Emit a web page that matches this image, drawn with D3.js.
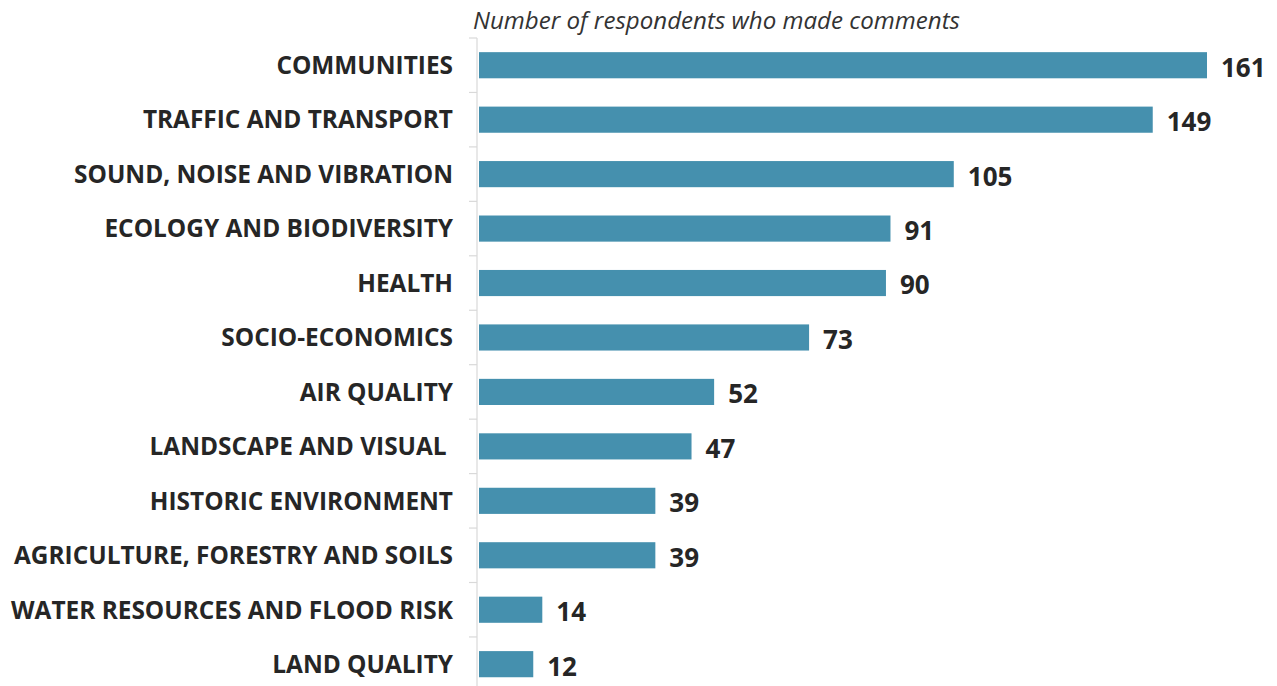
<!DOCTYPE html>
<html>
<head>
<meta charset="utf-8">
<script src="https://cdn.jsdelivr.net/npm/d3@7"></script>
<style>
  html, body { margin: 0; padding: 0; background: #fff; }
  svg { display: block; }
</style>
</head>
<body>
<svg id="chart" width="1277" height="686"></svg>
<script>
// Topics raised by respondents, and how many respondents commented on each
const categories = [
  "COMMUNITIES",
  "TRAFFIC AND TRANSPORT",
  "SOUND, NOISE AND VIBRATION",
  "ECOLOGY AND BIODIVERSITY",
  "HEALTH",
  "SOCIO-ECONOMICS",
  "AIR QUALITY",
  "LANDSCAPE AND VISUAL ",
  "HISTORIC ENVIRONMENT",
  "AGRICULTURE, FORESTRY AND SOILS",
  "WATER RESOURCES AND FLOOD RISK",
  "LAND QUALITY"
];
const respondents = [161, 149, 105, 91, 90, 73, 52, 47, 39, 39, 14, 12];
const chartTitle = "Number of respondents who made comments";

const svg = d3.select("#chart");
const width = 1277, height = 686;
const margin = { top: 38, left: 477, right: 70 };

const x = d3.scaleLinear()
  .domain([0, 161])
  .range([margin.left + 2, 1207]);

const y = d3.scaleBand()
  .domain(categories)
  .range([margin.top, margin.top + 54.45 * categories.length])
  .paddingInner(0.52)
  .paddingOuter(0.26);

// vertical category axis with short ticks between the bands
const axisG = svg.append("g").attr("transform", `translate(${margin.left},0)`);
axisG.append("line")
  .attr("x1", 0).attr("x2", 0)
  .attr("y1", y.range()[0]).attr("y2", height)
  .attr("stroke", "#d9d9d9").attr("stroke-width", 1.2);
const step = y.step();
const boundaries = d3.range(categories.length + 1).map(i => y.range()[0] + i * step);
axisG.selectAll("line.tick")
  .data(boundaries)
  .join("line")
  .attr("class", "tick")
  .attr("x1", -8).attr("x2", 0)
  .attr("y1", d => d).attr("y2", d => d)
  .attr("stroke", "#d9d9d9").attr("stroke-width", 1.2);

// bars
svg.append("g").selectAll("rect")
  .data(categories)
  .join("rect")
  .attr("x", x(0))
  .attr("y", d => y(d))
  .attr("width", (d, i) => x(respondents[i]) - x(0))
  .attr("height", y.bandwidth())
  .attr("fill", "#4590ae");

// category labels
svg.append("g").selectAll("text")
  .data(categories)
  .join("text")
  .attr("x", 453)
  .attr("y", d => y(d) + y.bandwidth() / 2)
  .attr("dy", "0.36em")
  .attr("text-anchor", "end")
  .attr("font-family", "'Open Sans', sans-serif")
  .attr("font-weight", 700)
  .attr("font-size", 24.4)
  .attr("fill", "#262626")
  .style("white-space", "pre")
  .text(d => d);

// value labels
svg.append("g").selectAll("text")
  .data(categories)
  .join("text")
  .attr("x", (d, i) => x(respondents[i]) + 14)
  .attr("y", d => y(d) + y.bandwidth() / 2)
  .attr("dy", "0.44em")
  .attr("font-family", "'Open Sans', sans-serif")
  .attr("font-weight", 700)
  .attr("font-size", 26)
  .attr("fill", "#262626")
  .text((d, i) => respondents[i]);

// title
svg.append("text")
  .attr("x", 473)
  .attr("y", 29)
  .attr("font-family", "'Open Sans', sans-serif")
  .attr("font-style", "italic")
  .attr("font-size", 24.1)
  .attr("fill", "#333")
  .text(chartTitle);
</script>
</body>
</html>
